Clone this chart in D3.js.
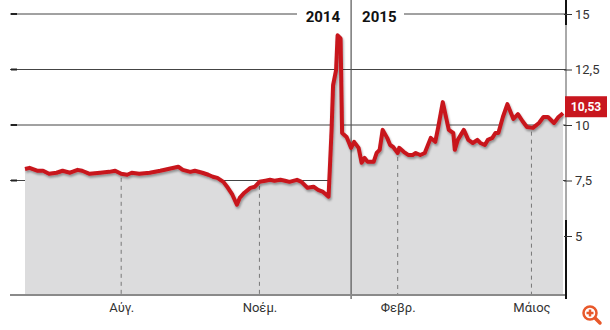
<!DOCTYPE html>
<html>
<head>
<meta charset="utf-8">
<script src="https://cdn.jsdelivr.net/npm/d3@7"></script>
<style>
  body { margin: 0; background: #fff; }
  svg { display: block; font-family: "Liberation Sans Narrow", "Roboto", sans-serif; }
</style>
</head>
<body>
<svg id="chart" width="610" height="330"></svg>
<script>
// Data
const dates = ["2014-05-29","2014-06-01","2014-06-06","2014-06-10","2014-06-14","2014-06-19","2014-06-23","2014-06-28","2014-07-03","2014-07-06","2014-07-11","2014-07-18","2014-07-24","2014-07-28","2014-08-01","2014-08-05","2014-08-08","2014-08-13","2014-08-20","2014-08-27","2014-09-02",
  "2014-09-08","2014-09-11","2014-09-16","2014-09-19","2014-09-24","2014-09-28",
  "2014-10-01","2014-10-04","2014-10-08","2014-10-11","2014-10-14","2014-10-17","2014-10-19","2014-10-22","2014-10-26","2014-10-29",
  "2014-11-01","2014-11-05","2014-11-08","2014-11-11","2014-11-15","2014-11-18","2014-11-21","2014-11-26","2014-11-29",
  "2014-12-03","2014-12-07","2014-12-10","2014-12-13","2014-12-17","2014-12-19","2014-12-20","2014-12-22","2014-12-23","2014-12-25","2014-12-26","2014-12-29",
  "2015-01-01","2015-01-03","2015-01-06","2015-01-08","2015-01-10","2015-01-12","2015-01-16","2015-01-18","2015-01-20","2015-01-22","2015-01-25","2015-01-27","2015-01-29",
  "2015-02-01","2015-02-02","2015-02-05","2015-02-08","2015-02-11","2015-02-13","2015-02-16","2015-02-19","2015-02-23","2015-02-26","2015-02-28",
  "2015-03-03","2015-03-07","2015-03-10","2015-03-11","2015-03-13","2015-03-17","2015-03-20","2015-03-23","2015-03-26","2015-03-28","2015-03-31",
  "2015-04-02","2015-04-05","2015-04-07","2015-04-09","2015-04-12","2015-04-15","2015-04-19","2015-04-22","2015-04-25","2015-04-28",
  "2015-05-02","2015-05-06","2015-05-09","2015-05-12","2015-05-16","2015-05-19","2015-05-22"];
const values = [8.02, 8.07, 7.94, 7.94, 7.80, 7.85, 7.94, 7.85, 7.98, 7.94, 7.80, 7.85, 7.89, 7.94, 7.80, 7.76, 7.85, 7.80, 7.85, 7.94, 8.03,
  8.12, 7.98, 7.89, 7.94, 7.85, 7.76,
  7.67, 7.62, 7.44, 7.17, 6.86, 6.41, 6.73, 6.95, 7.17, 7.22,
  7.44, 7.49, 7.53, 7.49, 7.53, 7.49, 7.44, 7.53, 7.44,
  7.17, 7.22, 7.08, 7.00, 6.77, 9.78, 11.79, 12.47, 14.04, 13.90, 9.64, 9.46,
  8.97, 9.24, 8.97, 8.30, 8.52, 8.34, 8.34, 8.74, 8.88, 9.78, 9.42, 9.10, 9.01,
  8.74, 8.97, 8.79, 8.65, 8.65, 8.74, 8.65, 8.74, 9.42, 9.24, 9.91,
  11.03, 9.78, 9.64, 8.88, 9.33, 9.78, 9.33, 9.19, 9.33, 9.19, 9.10,
  9.33, 9.42, 9.64, 9.64, 10.36, 10.94, 10.27, 10.49, 10.18, 9.91,
  9.87, 10.09, 10.36, 10.36, 10.09, 10.36, 10.53];

const yTicks = [5, 7.5, 10, 12.5, 15];
const gridValues = [7.5, 10, 12.5, 15];
const monthDates = ["2014-08-01", "2014-11-01", "2015-02-01", "2015-05-01"];
const monthLabels = ["Αύγ.", "Νοέμ.", "Φεβρ.", "Μάιος"];
const yearSplit = "2015-01-01";
const yearLabels = ["2014", "2015"];
const lastLabel = "10,53";

const parse = d3.timeParse("%Y-%m-%d");
const data = dates.map((d, i) => ({ date: parse(d), value: values[i] }));

const svg = d3.select("#chart");
const left = 25, right = 563, baseY = 295, axisX = 566, gridLeft = 10;

const locale = d3.formatLocale({ decimal: ",", thousands: ".", grouping: [3], currency: ["", "€"] });
const fmt = locale.format("~f");

const x = d3.scaleTime()
    .domain(d3.extent(data, d => d.date))
    .range([left, right]);

const y = d3.scaleLinear()
    .domain([5, 15])
    .range([236, 14]);

// shadow filter for the line
const defs = svg.append("defs");
defs.append("filter")
    .attr("id", "shadow")
    .attr("x", "-5%").attr("y", "-20%").attr("width", "110%").attr("height", "140%")
  .append("feDropShadow")
    .attr("dx", 1).attr("dy", 2)
    .attr("stdDeviation", 1.2)
    .attr("flood-color", "#000")
    .attr("flood-opacity", 0.35);

// gridlines (behind the area)
const xGapStart = 297, xGapEnd = 404;
gridValues.forEach(v => {
    if (v === 15) {
        svg.append("line").attr("x1", gridLeft).attr("x2", xGapStart)
            .attr("y1", y(v)).attr("y2", y(v)).attr("stroke", "#444").attr("stroke-width", 1);
        svg.append("line").attr("x1", xGapEnd).attr("x2", axisX)
            .attr("y1", y(v)).attr("y2", y(v)).attr("stroke", "#444").attr("stroke-width", 1);
    } else {
        svg.append("line").attr("x1", gridLeft).attr("x2", axisX)
            .attr("y1", y(v)).attr("y2", y(v)).attr("stroke", "#444").attr("stroke-width", 1);
    }
    // small dark stub on the left end
    svg.append("line").attr("x1", gridLeft + 1).attr("x2", gridLeft + 7)
        .attr("y1", y(v)).attr("y2", y(v)).attr("stroke", "#222").attr("stroke-width", 2);
});

// area
const area = d3.area()
    .x(d => x(d.date))
    .y0(baseY)
    .y1(d => y(d.value));

svg.append("path")
    .datum(data)
    .attr("fill", "#dcdcdd")
    .attr("d", area);

// dashed month lines inside the area
const bisect = d3.bisector(d => d.date).left;
function valueAt(date) {
    const i = bisect(data, date);
    if (i <= 0) return data[0].value;
    if (i >= data.length) return data[data.length - 1].value;
    const a = data[i - 1], b = data[i];
    const t = (date - a.date) / (b.date - a.date);
    return a.value + t * (b.value - a.value);
}
monthDates.forEach(m => {
    const d = parse(m);
    svg.append("line")
        .attr("x1", x(d)).attr("x2", x(d))
        .attr("y1", y(valueAt(d)) + 4).attr("y2", baseY)
        .attr("stroke", "#777")
        .attr("stroke-width", 1)
        .attr("stroke-dasharray", "4,4");
});

// year separator
const ys = parse(yearSplit);
svg.append("line")
    .attr("x1", x(ys)).attr("x2", x(ys))
    .attr("y1", 0).attr("y2", baseY + 4)
    .attr("stroke", "#555").attr("stroke-width", 1.2);

svg.append("text")
    .attr("x", x(ys) - 11).attr("y", 22)
    .attr("text-anchor", "end")
    .style("font-size", "15px").style("font-weight", "bold").style("fill", "#111")
    .text(yearLabels[0]);
svg.append("text")
    .attr("x", x(ys) + 11).attr("y", 22)
    .attr("text-anchor", "start")
    .style("font-size", "15px").style("font-weight", "bold").style("fill", "#111")
    .text(yearLabels[1]);

// line
const line = d3.line()
    .x(d => x(d.date))
    .y(d => y(d.value));

svg.append("path")
    .datum(data)
    .attr("fill", "none")
    .attr("stroke", "#c8161e")
    .attr("stroke-width", 4)
    .attr("stroke-linejoin", "round")
    .attr("filter", "url(#shadow)")
    .attr("d", line);

// baseline
svg.append("line")
    .attr("x1", gridLeft).attr("x2", axisX)
    .attr("y1", baseY).attr("y2", baseY)
    .attr("stroke", "#8a8a8a").attr("stroke-width", 2);

// x axis labels
const xAxis = d3.axisBottom(x)
    .tickValues(monthDates.map(parse))
    .tickSize(0)
    .tickPadding(8)
    .tickFormat((d, i) => monthLabels[i]);

const gx = svg.append("g")
    .attr("transform", `translate(0,${baseY})`)
    .call(xAxis);
gx.select(".domain").remove();
gx.selectAll("text")
    .style("font-size", "13px")
    .style("font-family", "\"Liberation Sans Narrow\", Roboto, sans-serif")
    .style("fill", "#333");

// right axis
svg.append("line")
    .attr("x1", axisX).attr("x2", axisX)
    .attr("y1", 0).attr("y2", baseY + 4)
    .attr("stroke", "#555").attr("stroke-width", 1);
svg.append("line")
    .attr("x1", axisX).attr("x2", axisX)
    .attr("y1", 0).attr("y2", 25)
    .attr("stroke", "#111").attr("stroke-width", 2);
svg.append("line")
    .attr("x1", axisX).attr("x2", axisX)
    .attr("y1", 220).attr("y2", baseY + 4)
    .attr("stroke", "#111").attr("stroke-width", 2);

const yAxis = d3.axisRight(y)
    .tickValues(yTicks)
    .tickSize(6)
    .tickPadding(3)
    .tickFormat(d => fmt(d));

const gy = svg.append("g")
    .attr("transform", `translate(${axisX},0)`)
    .call(yAxis);
gy.select(".domain").remove();
gy.selectAll(".tick line").attr("x1", -2).attr("stroke", "#333");
gy.selectAll("text")
    .style("font-size", "13px")
    .style("font-family", "\"Liberation Sans Narrow\", Roboto, sans-serif")
    .style("fill", "#333");

// last value label
const last = data[data.length - 1];
svg.append("rect")
    .attr("x", axisX - 1).attr("y", y(last.value) - 17)
    .attr("width", 42).attr("height", 21)
    .attr("fill", "#c8161e");
svg.append("text")
    .attr("x", axisX + 20).attr("y", y(last.value) - 2)
    .attr("text-anchor", "middle")
    .style("font-size", "12px").style("font-weight", "bold").style("fill", "#fff")
    .text(lastLabel);

// zoom icon
const icon = svg.append("g").attr("transform", "translate(590,313)");
icon.append("line").attr("x1", 4).attr("y1", 4).attr("x2", 10).attr("y2", 10)
    .attr("stroke", "#e8582a").attr("stroke-width", 3.5).attr("stroke-linecap", "round");
icon.append("circle").attr("r", 6.5).attr("fill", "#fff")
    .attr("stroke", "#e8582a").attr("stroke-width", 2.5);
icon.append("path").attr("d", "M-3.5,0H3.5M0,-3.5V3.5")
    .attr("stroke", "#e8582a").attr("stroke-width", 2.5);
</script>
</body>
</html>
